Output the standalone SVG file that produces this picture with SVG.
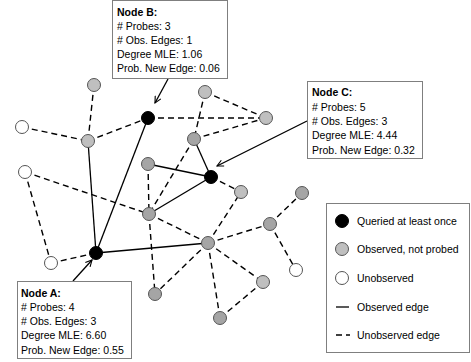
<svg xmlns="http://www.w3.org/2000/svg" width="471" height="362" viewBox="0 0 471 362">
<defs>
<marker id="arr" viewBox="0 0 10 10" refX="9" refY="5" markerWidth="8" markerHeight="8" markerUnits="userSpaceOnUse" orient="auto">
<polyline points="1,1 9,5 1,9" fill="none" stroke="#000" stroke-width="1.4"/>
</marker>
<style>
.s{stroke:#000;stroke-width:1.3;fill:none}
.d{stroke:#000;stroke-width:1.4;fill:none;stroke-dasharray:6 4}
.nd{stroke:#555;stroke-width:1}
.q{fill:#000;stroke:#000}
.lg{fill:#bfbfbf}
.dg{fill:#a5a5a5}
.w{fill:#fff}
.box{fill:#fff;stroke:#7f7f7f;stroke-width:1}
.t{font-family:"Liberation Sans",Arial,sans-serif;font-size:10.5px;fill:#000}
.b{font-weight:bold}
.ar{stroke:#000;stroke-width:1.3;fill:none;marker-end:url(#arr)}
</style>
</defs>
<rect width="471" height="362" fill="#fff"/>
<g id="connectors">
<line class="s" x1="96" y1="253" x2="148" y2="118"/>
<line class="s" x1="96" y1="253" x2="88" y2="141"/>
<line class="s" x1="96" y1="253" x2="208" y2="243"/>
<line class="s" x1="211" y1="177" x2="194" y2="139"/>
<line class="s" x1="211" y1="177" x2="148" y2="164"/>
<line class="s" x1="211" y1="177" x2="149" y2="214"/>
<line class="d" x1="94" y1="85" x2="88" y2="141"/>
<line class="d" x1="22" y1="127" x2="88" y2="141"/>
<line class="d" x1="88" y1="141" x2="148" y2="118"/>
<line class="d" x1="148" y1="118" x2="266" y2="118"/>
<line class="d" x1="205" y1="92" x2="266" y2="118"/>
<line class="d" x1="205" y1="92" x2="194" y2="139"/>
<line class="d" x1="194" y1="139" x2="266" y2="118"/>
<line class="d" x1="194" y1="139" x2="149" y2="214"/>
<line class="d" x1="25" y1="172" x2="149" y2="214"/>
<line class="d" x1="25" y1="172" x2="51" y2="263"/>
<line class="d" x1="51" y1="263" x2="96" y2="253"/>
<line class="d" x1="148" y1="164" x2="149" y2="214"/>
<line class="d" x1="149" y1="214" x2="208" y2="243"/>
<line class="d" x1="149" y1="214" x2="155" y2="294"/>
<line class="d" x1="208" y1="243" x2="155" y2="294"/>
<line class="d" x1="208" y1="243" x2="220" y2="318"/>
<line class="d" x1="208" y1="243" x2="263" y2="282"/>
<line class="d" x1="263" y1="282" x2="220" y2="318"/>
<line class="d" x1="208" y1="243" x2="270" y2="224"/>
<line class="d" x1="208" y1="243" x2="241" y2="192"/>
<line class="d" x1="211" y1="177" x2="241" y2="192"/>
<line class="d" x1="270" y1="224" x2="302" y2="193"/>
<line class="d" x1="270" y1="224" x2="296" y2="270"/>
<line class="ar" x1="168" y1="79" x2="155" y2="103"/>
<line class="ar" x1="307" y1="121" x2="217" y2="166"/>
<line class="ar" x1="73" y1="281" x2="92" y2="260"/>
</g>
<g id="n1"><circle class="nd lg" cx="94" cy="85" r="6.5"/></g>
<g id="nodeB"><circle class="q" cx="148" cy="118" r="6.5"/></g>
<g id="n3"><circle class="nd lg" cx="88" cy="141" r="6.5"/></g>
<g id="n4"><circle class="nd w" cx="22" cy="127" r="6.5"/></g>
<g id="n5"><circle class="nd lg" cx="205" cy="92" r="6.5"/></g>
<g id="n6"><circle class="nd lg" cx="266" cy="118" r="6.5"/></g>
<g id="n7"><circle class="nd dg" cx="194" cy="139" r="6.5"/></g>
<g id="n8"><circle class="nd dg" cx="148" cy="164" r="6.5"/></g>
<g id="nodeC"><circle class="q" cx="211" cy="177" r="6.5"/></g>
<g id="n10"><circle class="nd w" cx="25" cy="172" r="6.5"/></g>
<g id="n11"><circle class="nd dg" cx="149" cy="214" r="6.5"/></g>
<g id="n12"><circle class="nd lg" cx="241" cy="192" r="6.5"/></g>
<g id="n13"><circle class="nd dg" cx="302" cy="193" r="6.5"/></g>
<g id="n14"><circle class="nd dg" cx="270" cy="224" r="6.5"/></g>
<g id="n15"><circle class="nd dg" cx="208" cy="243" r="6.5"/></g>
<g id="nodeA"><circle class="q" cx="96" cy="253" r="6.5"/></g>
<g id="n17"><circle class="nd w" cx="51" cy="263" r="6.5"/></g>
<g id="n18"><circle class="nd w" cx="296" cy="270" r="6.5"/></g>
<g id="n19"><circle class="nd lg" cx="263" cy="282" r="6.5"/></g>
<g id="n20"><circle class="nd dg" cx="155" cy="294" r="6.5"/></g>
<g id="n21"><circle class="nd dg" cx="220" cy="318" r="6.5"/></g>
<g id="boxB">
<rect class="box" x="112.5" y="0.5" width="115" height="78"/>
<text class="t b" x="117" y="16">Node B:</text>
<text class="t" x="117" y="30"># Probes: 3</text>
<text class="t" x="117" y="44"># Obs. Edges: 1</text>
<text class="t" x="117" y="58">Degree MLE: 1.06</text>
<text class="t" x="117" y="72">Prob. New Edge: 0.06</text>
</g>
<g id="boxC">
<rect class="box" x="307.5" y="81.5" width="115" height="77"/>
<text class="t b" x="312" y="96">Node C:</text>
<text class="t" x="312" y="111"># Probes: 5</text>
<text class="t" x="312" y="125"># Obs. Edges: 3</text>
<text class="t" x="312" y="139">Degree MLE: 4.44</text>
<text class="t" x="312" y="154">Prob. New Edge: 0.32</text>
</g>
<g id="boxA">
<rect class="box" x="17.5" y="281.5" width="114" height="77"/>
<text class="t b" x="21" y="297">Node A:</text>
<text class="t" x="21" y="311"># Probes: 4</text>
<text class="t" x="21" y="325"># Obs. Edges: 3</text>
<text class="t" x="21" y="339">Degree MLE: 6.60</text>
<text class="t" x="21" y="354">Prob. New Edge: 0.55</text>
</g>
<g id="legend">
<rect class="box" x="326.5" y="203.5" width="143" height="149"/>
<circle class="q" cx="342" cy="221" r="6.5"/>
<circle class="nd lg" cx="342" cy="249" r="6.5"/>
<circle class="nd w" cx="342" cy="278" r="6.5"/>
<line class="s" x1="336" y1="307" x2="349" y2="307" stroke-width="1.6"/>
<line class="d" x1="336" y1="335" x2="350" y2="335" stroke-dasharray="4 4"/>
<text class="t" x="357" y="225">Queried at least once</text>
<text class="t" x="357" y="253">Observed, not probed</text>
<text class="t" x="357" y="282">Unobserved</text>
<text class="t" x="357" y="311">Observed edge</text>
<text class="t" x="357" y="339">Unobserved edge</text>
</g>
</svg>
